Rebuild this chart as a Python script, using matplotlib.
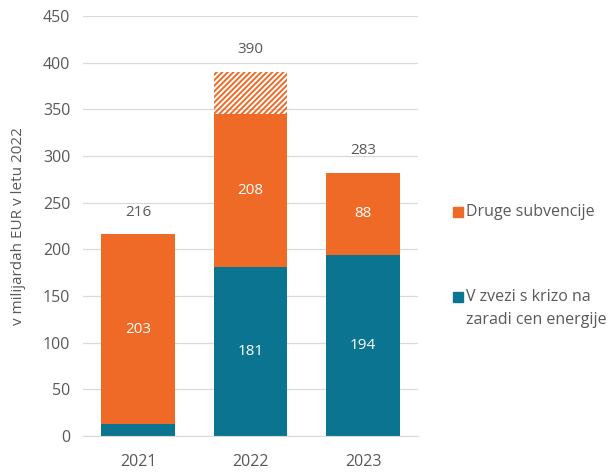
import matplotlib.pyplot as plt
from matplotlib.patches import Rectangle

plt.rcParams["font.family"] = ["Open Sans", "DejaVu Sans"]
plt.rcParams["hatch.linewidth"] = 1.4

years = ["2021", "2022", "2023"]
crisis = [13, 181, 194]          # V zvezi s krizo na zaradi cen energije
other = [203, 164, 88]           # Druge subvencije (solid part)
other_hatched = [0, 45, 0]       # Druge subvencije (hatched part)
other_labels = [203, 208, 88]
totals = [216, 390, 283]

teal = "#0B7490"
orange = "#EE6A26"
grey = "#595959"

fig = plt.figure(figsize=(6.14, 4.72), dpi=100)
ax = fig.add_axes([0.135, 0.0763, 0.546, 0.890])

x = range(len(years))
w = 0.65
ax.bar(x, crisis, width=w, color=teal, zorder=2)
ax.bar(x, other, width=w, bottom=crisis, color=orange, zorder=2)
base2 = [c + o for c, o in zip(crisis, other)]
ax.bar(x, other_hatched, width=w, bottom=base2, facecolor="none",
       edgecolor=orange, hatch="//////", linewidth=0, zorder=2)

# value labels inside the bars
for i in x:
    if crisis[i] > 50:
        ax.text(i, crisis[i] / 2, str(crisis[i]), ha="center", va="center",
                color="white", fontsize=11)
    ax.text(i, crisis[i] + other[i] / 2, str(other_labels[i]), ha="center",
            va="center", color="white", fontsize=11)
    top = crisis[i] + other[i] + other_hatched[i]
    ax.annotate(str(totals[i]), (i, top), xytext=(0, 16),
                textcoords="offset points", ha="center", va="center",
                color=grey, fontsize=11)

ax.set_ylim(0, 450)
ax.set_xlim(-0.49, 2.49)
ax.set_yticks(range(0, 451, 50))
ax.set_xticks(list(x))
ax.set_xticklabels(years)
ax.tick_params(axis="both", length=0, labelsize=11.5, labelcolor=grey, pad=9)
ax.tick_params(axis="x", pad=13)
ax.grid(axis="y", color="#D9D9D9", linewidth=0.9, zorder=0)
ax.set_axisbelow(True)
for s in ["top", "right", "left"]:
    ax.spines[s].set_visible(False)
ax.spines["bottom"].set_color("#D9D9D9")
ax.set_ylabel("v milijardah EUR v letu 2022", color=grey, fontsize=11,
              labelpad=12)

# legend entries
fig.add_artist(Rectangle((453 / 614, 1 - 217 / 472), 10 / 614, 10 / 472,
                         color=orange, transform=fig.transFigure))
fig.text(466 / 614, 1 - 212 / 472, "Druge subvencije", color=grey,
         fontsize=11.5, va="center")
fig.add_artist(Rectangle((453 / 614, 1 - 302 / 472), 10 / 614, 10 / 472,
                         color=teal, transform=fig.transFigure))
fig.text(466 / 614, 1 - 297 / 472, "V zvezi s krizo na", color=grey,
         fontsize=11.5, va="center")
fig.text(466 / 614, 1 - 320 / 472, "zaradi cen energije", color=grey,
         fontsize=11.5, va="center")

fig.savefig("out.png", dpi=100)
